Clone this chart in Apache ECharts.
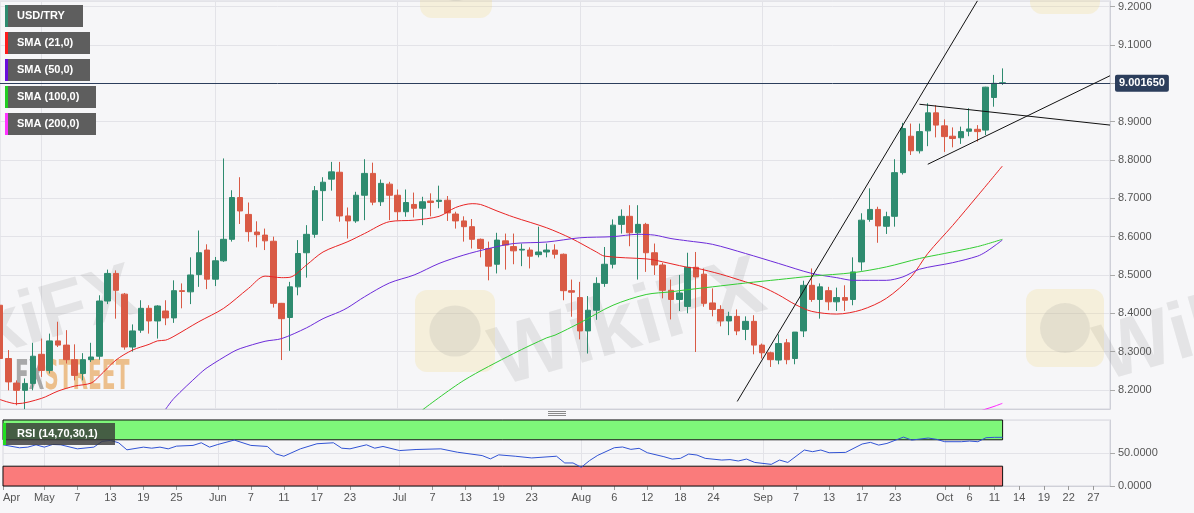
<!DOCTYPE html>
<html><head><meta charset="utf-8">
<script src="https://cdn.jsdelivr.net/npm/echarts@6/dist/echarts.min.js"></script>
<style>html,body{margin:0;padding:0;background:#f7f7f9;}#c{width:1194px;height:513px;}</style>
</head><body><div id="c"></div>
<script>
// ---------- data ----------
const START_DAY = '2021-04-26', END_DAY = '2021-10-29';
// [open, high, low, close] per trading day from 2021-04-26
const ohlc = [
[8.421,8.486,8.270,8.282],[8.282,8.304,8.199,8.221],[8.218,8.225,8.160,8.199],[8.199,8.230,8.150,8.217],[8.217,8.323,8.199,8.288],
[8.293,8.334,8.234,8.251],[8.251,8.347,8.243,8.328],[8.328,8.378,8.312,8.317],[8.317,8.356,8.269,8.279],[8.279,8.319,8.225,8.238],
[8.243,8.296,8.225,8.279],[8.279,8.323,8.273,8.286],[8.288,8.447,8.279,8.432],[8.432,8.514,8.424,8.504],[8.504,8.512,8.386,8.460],
[8.450,8.453,8.305,8.312],[8.312,8.371,8.300,8.354],[8.356,8.434,8.349,8.413],[8.413,8.421,8.347,8.380],[8.380,8.421,8.334,8.419],
[8.406,8.434,8.369,8.388],[8.388,8.486,8.375,8.459],[8.459,8.478,8.413,8.457],[8.456,8.546,8.424,8.500],[8.501,8.616,8.469,8.558],
[8.565,8.580,8.463,8.489],[8.489,8.547,8.471,8.537],[8.537,8.804,8.534,8.593],[8.593,8.721,8.587,8.702],[8.702,8.755,8.633,8.667],
[8.658,8.689,8.587,8.613],[8.612,8.640,8.572,8.605],[8.604,8.621,8.565,8.589],[8.588,8.600,8.415,8.426],[8.426,8.427,8.278,8.386],
[8.389,8.482,8.302,8.469],[8.469,8.591,8.447,8.556],[8.558,8.630,8.493,8.606],[8.606,8.732,8.597,8.720],[8.720,8.755,8.641,8.742],
[8.750,8.795,8.720,8.769],[8.768,8.795,8.639,8.654],[8.654,8.676,8.595,8.641],[8.641,8.717,8.636,8.708],[8.708,8.802,8.643,8.765],
[8.765,8.793,8.682,8.690],[8.691,8.749,8.680,8.739],[8.737,8.743,8.643,8.708],[8.708,8.723,8.643,8.665],[8.665,8.723,8.652,8.689],
[8.684,8.715,8.650,8.674],[8.674,8.704,8.630,8.691],[8.693,8.713,8.653,8.689],[8.692,8.733,8.674,8.695],[8.695,8.706,8.641,8.662],
[8.659,8.665,8.621,8.641],[8.641,8.653,8.587,8.626],[8.626,8.646,8.569,8.593],[8.593,8.595,8.546,8.569],[8.569,8.587,8.486,8.523],
[8.528,8.610,8.504,8.591],[8.589,8.608,8.514,8.578],[8.574,8.608,8.528,8.563],[8.565,8.582,8.523,8.567],[8.565,8.572,8.517,8.549],
[8.553,8.626,8.546,8.560],[8.560,8.582,8.546,8.565],[8.565,8.580,8.543,8.554],[8.554,8.556,8.434,8.459],[8.459,8.488,8.391,8.455],
[8.441,8.482,8.332,8.354],[8.354,8.445,8.295,8.408],[8.408,8.494,8.383,8.478],[8.478,8.573,8.469,8.528],[8.528,8.645,8.517,8.630],
[8.632,8.671,8.608,8.653],[8.653,8.682,8.575,8.610],[8.610,8.682,8.488,8.632],[8.632,8.636,8.508,8.558],[8.558,8.582,8.500,8.526],
[8.526,8.532,8.439,8.460],[8.460,8.488,8.384,8.436],[8.436,8.500,8.406,8.453],[8.418,8.558,8.400,8.520],[8.520,8.560,8.299,8.495],
[8.502,8.517,8.417,8.426],[8.427,8.465,8.392,8.410],[8.410,8.421,8.366,8.380],[8.380,8.404,8.343,8.392],[8.392,8.410,8.343,8.354],
[8.358,8.392,8.330,8.379],[8.379,8.395,8.293,8.317],[8.317,8.321,8.282,8.297],[8.297,8.300,8.260,8.279],[8.278,8.345,8.267,8.321],
[8.323,8.333,8.267,8.279],[8.282,8.351,8.267,8.351],[8.354,8.485,8.338,8.473],[8.473,8.517,8.430,8.436],[8.436,8.478,8.386,8.469],
[8.459,8.469,8.408,8.430],[8.430,8.467,8.406,8.441],[8.441,8.473,8.406,8.434],[8.436,8.546,8.421,8.508],[8.534,8.661,8.511,8.643],
[8.645,8.726,8.639,8.671],[8.671,8.678,8.584,8.628],[8.627,8.665,8.607,8.652],[8.653,8.802,8.626,8.767],[8.767,8.897,8.762,8.882],
[8.862,8.895,8.813,8.824],[8.824,8.895,8.817,8.874],[8.876,8.948,8.836,8.923],[8.923,8.943,8.859,8.891],[8.889,8.906,8.821,8.861],
[8.862,8.885,8.833,8.856],[8.858,8.887,8.842,8.874],[8.875,8.935,8.862,8.881],[8.880,8.891,8.848,8.874],[8.878,8.991,8.865,8.990],
[8.963,9.022,8.939,9.000],[9.000,9.039,8.996,9.00165]
];
const lastPrice = 9.00165;
// [day index, value]
const sma21 = [[0,8.175],[2,8.164],[5,8.178],[7,8.197],[9,8.210],[11,8.218],[12,8.236],[14,8.278],[16,8.304],[18,8.319],[19,8.328],[20,8.330],
[21,8.340],[24,8.378],[27,8.413],[30,8.465],[32,8.497],[34,8.493],[35,8.494],[37,8.526],[39,8.560],[42,8.587],[44,8.608],[47,8.639],
[50,8.643],[53,8.653],[55,8.676],[57,8.686],[58,8.684],[60,8.667],[62,8.651],[66,8.623],[69,8.595],[72,8.560],[73,8.549],[78,8.542],
[79,8.539],[83,8.520],[84,8.518],[87,8.502],[90,8.482],[92,8.469],[94,8.448],[96,8.423],[98,8.405],[101,8.398],[104,8.409],[107,8.439],
[110,8.495],[112,8.556],[115,8.629],[118,8.706],[121,8.784]];
const sma50 = [[20,8.150],[21,8.178],[24,8.240],[25,8.258],[28,8.298],[29,8.308],[32,8.327],[34,8.334],[37,8.362],[39,8.386],[41,8.404],
[42,8.415],[44,8.443],[47,8.479],[50,8.500],[53,8.530],[56,8.552],[59,8.569],[62,8.582],[66,8.586],[70,8.597],[74,8.600],[77,8.606],
[79,8.604],[81,8.595],[83,8.589],[86,8.580],[90,8.556],[94,8.530],[98,8.504],[101,8.493],[103,8.486],[107,8.486],[109,8.495],[111,8.515],
[115,8.532],[118,8.549],[119,8.560],[120,8.575],[121,8.591]];
const sma100 = [[51,8.148],[56,8.225],[62,8.295],[66,8.336],[67,8.343],[70,8.375],[74,8.421],[78,8.449],[81,8.456],[82,8.459],[86,8.469],
[90,8.479],[94,8.488],[98,8.497],[103,8.506],[107,8.521],[111,8.543],[114,8.556],[118,8.574],[121,8.593]];
const sma200 = [[118,8.143],[119,8.150],[120,8.157],[121,8.165]];
const rsi = [[0,62.4],[2,57.9],[3,58.9],[4,62.4],[5,58.9],[6,62.9],[7,62.4],[9,56.3],[11,58.9],[12,67.6],[13,69.1],[14,65.5],[15,54.8],
[17,58.9],[18,57.3],[19,58.9],[20,56.3],[21,60.4],[23,61.5],[24,65.5],[25,58.9],[26,62.9],[28,69.6],[30,61.5],[32,59.9],[33,48.7],
[34,45.1],[36,56.3],[38,64.0],[40,65.5],[41,57.3],[42,56.3],[44,62.4],[45,57.3],[46,59.9],[48,53.7],[50,55.3],[53,56.3],[55,51.2],
[58,46.1],[59,41.1],[60,47.2],[62,45.1],[64,42.5],[67,45.1],[68,34.9],[69,34.9],[70,28.3],[71,38.5],[72,46.5],[74,58.0],[75,59.1],
[76,55.5],[77,57.1],[78,50.4],[80,44.4],[81,40.8],[82,41.9],[83,48.4],[84,46.9],[85,41.9],[87,39.3],[88,40.0],[89,37.9],[90,40.8],
[91,35.7],[93,32.8],[94,39.3],[95,35.7],[97,54.5],[98,52.0],[99,54.5],[100,50.4],[102,50.9],[104,63.6],[105,66.1],[106,62.0],[107,64.5],
[109,74.1],[110,69.6],[112,72.7],[113,70.7],[114,67.1],[116,67.1],[117,68.1],[118,67.1],[119,73.2],[120,73.7],[121,73.7]];
const rsiUpper = 70, rsiLower = 30;
// trend lines: [[day index, price], [day index, price]]
const trendLines = [[[89,8.170],[118,9.2154]],[[112,8.7888],[134,9.0198]],[[111,8.9454],[134,8.8911]]];
const tickDates = ['2021-04-26','2021-05-03','2021-05-07','2021-05-13','2021-05-19','2021-05-25','2021-06-01','2021-06-07','2021-06-11',
'2021-06-17','2021-06-23','2021-07-01','2021-07-07','2021-07-13','2021-07-19','2021-07-23','2021-08-02','2021-08-06','2021-08-12',
'2021-08-18','2021-08-24','2021-09-01','2021-09-07','2021-09-13','2021-09-17','2021-09-23','2021-10-01','2021-10-06','2021-10-11',
'2021-10-14','2021-10-19','2021-10-22','2021-10-27'];
const tickTexts = ['Apr','May','7','13','19','25','Jun','7','11','17','23','Jul','7','13','19','23','Aug','6','12','18','24','Sep','7','13',
'17','23','Oct','6','11','14','19','22','27'];
const monthStarts = ['2021-05-03','2021-06-01','2021-07-01','2021-08-02','2021-09-01','2021-10-01'];
const legendLabels = ['USD/TRY','SMA (21,0)','SMA (50,0)','SMA (100,0)','SMA (200,0)'];
const rsiLabel = 'RSI (14,70,30,1)';
const priceMin = 8.1503, priceMax = 9.2148;

// ---------- build ----------
function weekdays(a, b) {
  const out = []; let d = new Date(a + 'T00:00:00Z'); const e = new Date(b + 'T00:00:00Z');
  while (d <= e) { const w = d.getUTCDay(); if (w !== 0 && w !== 6) out.push(d.toISOString().slice(0, 10)); d = new Date(d.getTime() + 86400000); }
  return out;
}
const categories = weekdays(START_DAY, END_DAY);
const tickSet = new Set(tickDates);
const labelMap = {}; tickDates.forEach((d, i) => labelMap[d] = tickTexts[i]);
const monthSet = new Set(monthStarts);
const candleData = ohlc.map(r => [r[0], r[3], r[2], r[1]]);

const UP = '#2e8b6f', DOWN = '#d95a45';
const C21 = '#e82424', C50 = '#6c2bd9', C100 = '#33cc33', C200 = '#ff22ff';
const legendColors = [UP, '#ff1a1a', '#6a0ddb', '#22cc22', '#ff33ff'];
const legendW = [78, 85, 85, 91, 91];
const FONT = '"Liberation Sans", Arial, sans-serif';
const GRID = '#e3e3e8';

const graphics = [];
// watermarks (behind the series)
const WM = 'rgba(130,130,130,0.16)';
[[-97, 398, 76], [506, 404, 84], [1110, 398, 80]].forEach(p => graphics.push({ type: 'text', x: p[0], y: p[1], rotation: 0.28, z: 1,
  style: { text: 'WikiFX', fill: WM, font: 'bold ' + p[2] + 'px ' + FONT, verticalAlign: 'bottom' } }));
[[415, 290, 80, 82], [1026, 289, 78, 78], [420, -62, 72, 80], [1030, -64, 70, 78]].forEach(p => {
  graphics.push({ type: 'rect', x: p[0], y: p[1], z: 1, shape: { x: 0, y: 0, width: p[2], height: p[3], r: 12 }, style: { fill: 'rgba(242,215,120,0.22)' } });
  graphics.push({ type: 'circle', x: p[0], y: p[1], z: 1, shape: { cx: p[2] / 2, cy: p[3] / 2, r: p[2] * 0.32 }, style: { fill: 'rgba(140,140,140,0.16)' } });
});
graphics.push({ type: 'text', x: 15, y: 399, z: 1, scaleX: 0.56, style: { text: '{a|FX}{b|STREET}', verticalAlign: 'bottom', rich: {
  a: { fill: 'rgba(150,150,150,0.8)', font: 'bold 40px "Liberation Sans Narrow", "DejaVu Sans Condensed", sans-serif' },
  b: { fill: 'rgba(234,178,112,0.8)', font: 'bold 40px "Liberation Sans Narrow", "DejaVu Sans Condensed", sans-serif' } } } });
// legend boxes (top layer)
function labelBox(x, y, w, strip, text, fill) {
  graphics.push({ type: 'rect', x: x, y: y, zlevel: 2, z: 100, shape: { x: 0, y: 0, width: w, height: 22 }, style: { fill: fill } });
  graphics.push({ type: 'rect', x: x, y: y, zlevel: 2, z: 101, shape: { x: 0, y: 0, width: 3, height: 22 }, style: { fill: strip } });
  graphics.push({ type: 'text', x: x + (text === rsiLabel ? 14 : 12), y: y + 11, zlevel: 2, z: 102,
    style: { text: text, fill: '#fff', font: 'bold 11px ' + FONT, verticalAlign: 'middle' } });
}
legendLabels.forEach((t, i) => labelBox(5, 5 + 27 * i, legendW[i], legendColors[i], t, '#5e5e5e'));
labelBox(3, 423, 112, '#22dd22', rsiLabel, 'rgba(55,55,55,0.8)');
// panel separator handle
[411.5, 413.5, 415.5].forEach(y => graphics.push({ type: 'line', zlevel: 2, z: 100, shape: { x1: 548, y1: y, x2: 566, y2: y },
  style: { stroke: '#8a8a8a', lineWidth: 1 } }));

const xCommon = {
  type: 'category', data: categories, boundaryGap: false,
  axisLine: { show: true, lineStyle: { color: '#cfd0d8' } },
  splitLine: { show: true, interval: (i, v) => monthSet.has(v), lineStyle: { color: GRID } }
};

const option = {
  animation: false,
  backgroundColor: '#f7f7f9',
  graphic: graphics,
  grid: [
    { left: 0, top: 1, width: 1110, height: 408, show: true, borderColor: '#d6d7de', borderWidth: 1, backgroundColor: '#f6f6f8' },
    { left: 0, top: 420, width: 1110, height: 66, show: true, borderColor: '#d6d7de', borderWidth: 1, backgroundColor: '#f6f6f8' }
  ],
  xAxis: [
    Object.assign({}, xCommon, { gridIndex: 0, axisLabel: { show: false }, axisTick: { show: false } }),
    Object.assign({}, xCommon, { gridIndex: 1,
      axisTick: { show: true, length: 4, interval: (i, v) => tickSet.has(v), lineStyle: { color: '#999' } },
      axisLabel: { show: true, interval: (i, v) => tickSet.has(v), formatter: v => labelMap[v] || '', color: '#555', fontSize: 11,
        fontFamily: FONT, margin: 6, alignMinLabel: 'left' } })
  ],
  yAxis: [
    { gridIndex: 0, type: 'value', position: 'right', min: priceMin, max: priceMax, splitNumber: 10, scale: true,
      axisLine: { show: true, lineStyle: { color: '#cfd0d8' } }, axisTick: { show: true, length: 5, lineStyle: { color: '#aaa' } },
      axisLabel: { color: '#555', fontSize: 11, fontFamily: FONT, margin: 8, showMinLabel: false, showMaxLabel: false,
        formatter: v => v.toFixed(4) },
      splitLine: { show: true, lineStyle: { color: GRID } } },
    { gridIndex: 1, type: 'value', position: 'right', min: 0, max: 100, interval: 50,
      axisLine: { show: true, lineStyle: { color: '#cfd0d8' } }, axisTick: { show: true, length: 5, lineStyle: { color: '#aaa' } },
      axisLabel: { color: '#555', fontSize: 11, fontFamily: FONT, margin: 8, showMaxLabel: false, formatter: v => v.toFixed(4) },
      splitLine: { show: true, lineStyle: { color: GRID } } }
  ],
  series: [
    { type: 'candlestick', xAxisIndex: 0, yAxisIndex: 0, data: candleData, barWidth: 6, z: 3,
      itemStyle: { color: UP, color0: DOWN, borderColor: UP, borderColor0: DOWN, borderWidth: 1 },
      markLine: { silent: true, symbol: 'none', data: [{ yAxis: lastPrice }],
        lineStyle: { color: '#2c3e5c', width: 1, type: 'solid' },
        label: { show: true, position: 'end', distance: 5, formatter: () => lastPrice.toFixed(6), backgroundColor: '#2c3e5c',
          color: '#fff', fontWeight: 'bold', fontSize: 11, fontFamily: FONT, padding: [3, 4, 3, 4], borderRadius: 2 } } },
    { type: 'line', name: 'SMA21', data: sma21, smooth: 0.3, symbol: 'none', lineStyle: { color: C21, width: 1 }, z: 4 },
    { type: 'line', name: 'SMA50', data: sma50, smooth: 0.3, symbol: 'none', lineStyle: { color: C50, width: 1 }, z: 4 },
    { type: 'line', name: 'SMA100', data: sma100, smooth: 0.3, symbol: 'none', lineStyle: { color: C100, width: 1 }, z: 4 },
    { type: 'line', name: 'SMA200', data: sma200, smooth: 0.3, symbol: 'none', lineStyle: { color: C200, width: 1 }, z: 4 },
  ].concat(trendLines.map(t => ({ type: 'line', data: t, symbol: 'none', lineStyle: { color: '#111', width: 1 }, z: 5 })))
  .concat([
    { type: 'line', xAxisIndex: 1, yAxisIndex: 1, data: [], z: 1,
      markArea: { silent: true, itemStyle: { borderColor: '#111', borderWidth: 1 },
        data: [
          [{ xAxis: 0, yAxis: rsiUpper, itemStyle: { color: '#7ef77a' } }, { xAxis: ohlc.length - 1, yAxis: 100 }],
          [{ xAxis: 0, yAxis: 0, itemStyle: { color: '#fa7b7b' } }, { xAxis: ohlc.length - 1, yAxis: rsiLower }]
        ] } },
    { type: 'line', xAxisIndex: 1, yAxisIndex: 1, data: rsi, symbol: 'none', lineStyle: { color: '#3153d4', width: 1 }, z: 6 }
  ])
};
const chart = echarts.init(document.getElementById('c'), null, { renderer: 'canvas' });
chart.setOption(option);
</script></body></html>
